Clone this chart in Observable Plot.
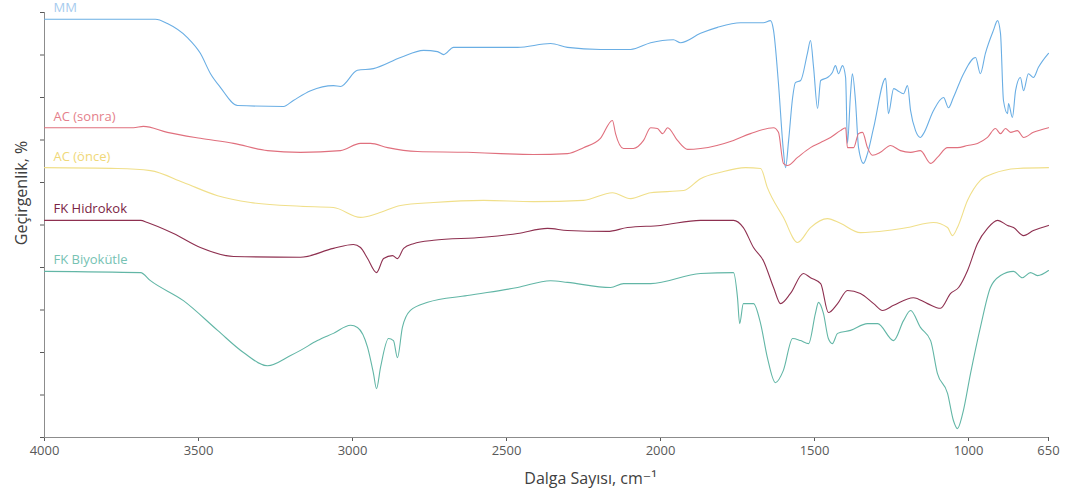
<!DOCTYPE html>
<html>
<head>
<meta charset="utf-8">
<script src="https://cdn.jsdelivr.net/npm/d3@7"></script>
<script src="https://cdn.jsdelivr.net/npm/@observablehq/plot@0.6"></script>
<style>
  html, body { margin: 0; padding: 0; background: #fff; }
  #chart svg { display: block; }
</style>
</head>
<body>
<div id="chart"></div>
<script>
// FTIR spectra (transmittance, offset per sample) versus wavenumber in cm-1
const seriesNames = ["MM", "AC (sonra)", "AC (önce)", "FK Hidrokok", "FK Biyokütle"];
const seriesColors = ["#6aaee4", "#e0707e", "#f0df8a", "#8e3050", "#62b6a6"];
const labelColors = ["#a6cbee", "#e57f8b", "#f0d878", "#7a2444", "#76c2b3"];

const xTicks = [4000, 3500, 3000, 2500, 2000, 1500, 1000, 650];
const yTicks = [0, 10, 20, 30, 40, 50, 60, 70, 80, 90, 100];

const mmWave = [4000,3640,3601,3536,3494,3461,3429,3373,3224,3192,3136,3062,3039,2984,2932,2844,2769,2724,2704,2672,2575,2464,2357,2302,2195,2097,2032,1958,1935,1870,1815,1740,1666,1643,1633,1617,1601,1594,1584,1571,1562,1545,1523,1513,1503,1490,1480,1458,1442,1432,1422,1409,1399,1393,1383,1377,1367,1357,1341,1328,1308,1269,1260,1243,1230,1211,1198,1188,1172,1156,1146,1114,1081,1065,1049,1016,969,948,926,891,873,860,847,829,825,808,794,773,759,738,716,694,650];
const mmT = [98.4,98.4,97.4,94.1,90.4,85.6,82.4,78.1,77.9,79.3,81.6,82.8,82.6,86.4,86.8,89.4,91.1,90.8,90.1,91.8,91.8,91.8,92.7,91.8,91.3,91.3,92.9,93.6,92.9,95.1,96.5,97.6,97.6,98.1,95.8,83.3,67.5,63.5,69.9,80.0,83.5,84.0,90.4,93.4,87.1,77.4,84.0,84.7,85.9,87.5,85.6,87.5,84.7,69.2,80.9,85.6,79.3,68.2,64.5,66.8,72.9,84.5,76.2,82.1,81.6,80.9,82.8,76.9,72.2,70.6,71.5,76.9,80.0,77.6,80.0,85.6,89.4,85.6,90.4,95.8,98.1,95.1,79.3,76.2,78.6,75.3,81.6,84.7,81.6,85.6,84.7,87.1,90.4];

const acSonraWave = [4000,3711,3679,3601,3494,3386,3276,3169,3039,2974,2942,2886,2789,2627,2519,2412,2302,2250,2195,2156,2146,2120,2088,2055,2032,2010,1993,1977,1945,1912,1870,1763,1708,1633,1617,1601,1588,1555,1513,1480,1448,1416,1399,1393,1373,1357,1344,1328,1312,1286,1253,1221,1188,1156,1123,1101,1068,1036,1003,961,917,882,860,838,816,786,759,716,650];
const acSonraT = [72.9,72.9,73.2,71.8,70.4,69.2,67.5,67.1,67.5,69.2,69.2,68.2,67.3,67.1,66.8,66.6,66.8,68.2,70.4,74.6,71.5,68.0,68.0,69.9,72.9,72.7,71.5,72.9,69.9,67.8,68.0,69.9,71.5,72.9,71.8,64.5,64.0,65.9,68.2,69.4,70.6,72.2,72.9,68.2,68.2,71.5,71.8,68.2,66.4,67.1,68.7,67.5,67.1,67.5,64.5,65.9,68.2,68.2,68.7,69.2,70.6,72.7,71.5,72.7,71.8,72.2,70.6,71.8,72.9];

const acOnceWave = [4000,3763,3656,3549,3438,3331,3169,3062,2974,2919,2844,2737,2575,2412,2250,2156,2097,2032,1925,1870,1805,1724,1675,1653,1601,1555,1513,1458,1416,1351,1263,1198,1114,1068,1052,1036,1003,948,891,786,650];
const acOnceT = [63.5,63.3,62.8,60.0,56.9,55.3,54.4,54.1,51.8,52.7,54.6,55.3,55.8,55.5,55.8,57.6,56.2,57.6,58.1,60.9,62.4,63.5,63.3,58.8,51.8,45.9,49.4,51.5,50.4,48.2,48.7,49.4,50.6,49.4,47.5,49.4,55.8,60.5,62.1,63.3,63.5];

const hidrokokWave = [4000,3688,3666,3581,3494,3386,3169,3062,2997,2974,2951,2922,2899,2870,2854,2834,2802,2737,2575,2464,2367,2302,2172,2107,2000,1870,1763,1731,1698,1666,1633,1610,1578,1536,1513,1480,1455,1425,1393,1351,1308,1279,1243,1179,1133,1091,1058,1032,1003,961,917,873,829,803,759,716,650];
const hidrokokT = [51.1,51.1,50.6,48.0,44.7,42.6,42.4,44.5,45.4,44.7,42.1,38.8,42.1,42.8,42.1,44.5,45.6,46.4,47.1,48.0,49.2,48.7,48.5,49.4,49.9,51.1,51.1,49.4,44.7,41.6,35.3,31.5,33.9,38.6,37.6,36.2,29.4,31.5,34.6,33.9,31.5,29.9,31.1,32.9,31.5,30.4,33.9,35.3,39.3,45.6,49.2,51.1,49.9,49.4,47.5,48.7,49.9];

const biyokutleWave = [4000,3688,3656,3549,3438,3354,3276,3201,3169,3114,3062,3006,2984,2951,2932,2922,2909,2883,2867,2854,2838,2812,2756,2627,2464,2357,2302,2162,2120,2032,1870,1763,1750,1743,1731,1698,1675,1653,1627,1601,1571,1545,1519,1497,1487,1471,1455,1442,1425,1383,1328,1295,1243,1211,1188,1156,1123,1101,1068,1049,1036,1019,991,948,904,860,803,764,729,698,650];
const biyokutleT = [39.1,38.8,36.9,32.2,25.2,20.0,16.9,19.3,20.5,22.8,24.5,26.4,25.9,21.2,15.1,11.5,16.5,23.3,22.8,18.8,25.9,29.9,31.8,33.4,35.3,36.9,36.5,35.3,36.2,36.2,38.6,38.8,32.9,26.8,31.5,31.5,26.8,18.8,12.9,15.8,23.3,22.8,22.1,29.2,31.8,29.2,23.3,22.1,24.5,25.2,26.8,26.8,22.8,27.5,29.9,25.9,22.8,15.1,10.4,4.0,2.1,5.6,15.1,25.9,35.3,38.1,39.1,37.6,38.8,38.1,39.3];

const waves = [mmWave, acSonraWave, acOnceWave, hidrokokWave, biyokutleWave];
const values = [mmT, acSonraT, acOnceT, hidrokokT, biyokutleT];

// The wavenumber axis is even from 4000 to 1000 and compressed below 1000:
// map wavenumbers onto a piecewise "axis position" before Plot's linear x scale.
const axisPos = d3.scaleLinear().domain([4000, 1000, 650]).range([0, 924, 1004]);
const tickLabelAt = new Map(xTicks.map(w => [axisPos(w), String(w)]));

// long-format rows for the line marks
const rows = seriesNames.flatMap((name, i) =>
  waves[i].map((w, j) => ({series: name, wave: w, t: values[i][j]}))
);
// one label per spectrum, anchored at its first point
const labels = seriesNames.map((name, i) => ({series: name, wave: waves[i][0], t: values[i][0], color: labelColors[i]}));

const font = "'Open Sans', 'DejaVu Sans', sans-serif";

const chart = Plot.plot({
  width: 1071,
  height: 497,
  marginLeft: 44,
  marginRight: 23,
  marginTop: 12,
  marginBottom: 60,
  style: {fontFamily: font, fontSize: "13px", color: "#595959", background: "#fff", overflow: "visible"},
  x: {
    domain: [axisPos(4000), axisPos(650)],
    ticks: xTicks.map(axisPos),
    tickFormat: v => tickLabelAt.get(v) ?? "",
    tickSize: 4,
    tickPadding: 4,
    label: null
  },
  y: {
    domain: [0, 100],
    ticks: yTicks,
    tickFormat: () => "",
    tickSize: 4,
    label: null
  },
  color: {domain: seriesNames, range: seriesColors},
  marks: [
    Plot.ruleX([axisPos(4000)], {stroke: "#8c8c8c", strokeWidth: 1}),
    Plot.ruleY([0], {stroke: "#8c8c8c", strokeWidth: 1}),
    Plot.line(rows, {x: d => axisPos(d.wave), y: "t", z: "series", stroke: "series", strokeWidth: 1.1, curve: "monotone-x"}),
    Plot.text(labels, {x: d => axisPos(d.wave), y: "t", text: "series", fill: "color", textAnchor: "start", dx: 9, dy: -11, fontSize: 13}),
    Plot.text(["Dalga Sayısı, cm⁻¹"], {frameAnchor: "bottom", textAnchor: "middle", lineAnchor: "middle", dx: 44, dy: 41, fontSize: 16, fill: "#404040"}),
    Plot.text(["Geçirgenlik, %"], {frameAnchor: "left", textAnchor: "middle", lineAnchor: "middle", rotate: -90, dx: -23, dy: -32, fontSize: 16, fill: "#404040"})
  ]
});

document.getElementById("chart").appendChild(chart);
</script>
</body>
</html>
